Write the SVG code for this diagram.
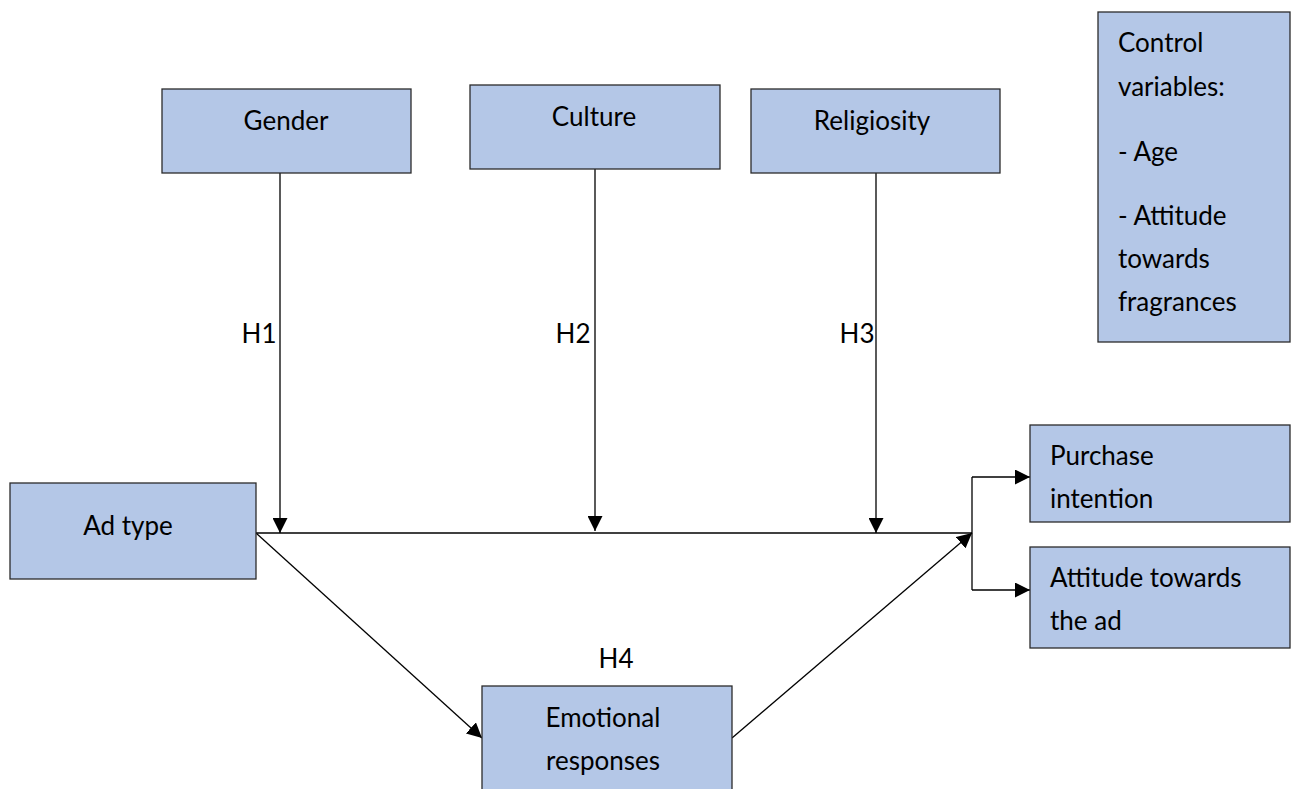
<svg xmlns="http://www.w3.org/2000/svg" width="1298" height="789" viewBox="0 0 1298 789">
<defs>
<style>
.box{fill:#B4C7E7;stroke:#2b2b2b;stroke-width:1.3}
text{font-family:Lato,"Open Sans","Liberation Sans",sans-serif;font-size:26px;fill:#000}
.c{text-anchor:middle}
.ln{stroke:#000;stroke-width:1.3;fill:none}
</style>
<marker id="ahs" viewBox="0 0 10 10" refX="10" refY="5" markerWidth="15" markerHeight="15" markerUnits="userSpaceOnUse" orient="auto"><path d="M0,0L10,5L0,10z" fill="#000"/></marker>
</defs>
<g id="connectors">
<line class="ln" x1="256" y1="533" x2="972" y2="533"/>
<line class="ln" x1="280" y1="173" x2="280" y2="533" marker-end="url(#ahs)"/>
<line class="ln" x1="595" y1="169" x2="595" y2="531" marker-end="url(#ahs)"/>
<line class="ln" x1="876" y1="173" x2="876" y2="533" marker-end="url(#ahs)"/>
<line class="ln" x1="972" y1="477" x2="972" y2="590"/>
<line class="ln" x1="972" y1="477" x2="1030" y2="477" marker-end="url(#ahs)"/>
<line class="ln" x1="972" y1="590" x2="1030" y2="590" marker-end="url(#ahs)"/>
<line class="ln" x1="256" y1="533" x2="482" y2="738" marker-end="url(#ahs)"/>
<line class="ln" x1="732" y1="738" x2="972" y2="533" marker-end="url(#ahs)"/>
<text x="259" y="343" class="c">H1</text>
<text x="573" y="343" class="c">H2</text>
<text x="857" y="343" class="c">H3</text>
<text x="616" y="668" class="c">H4</text>
</g>
<g id="gender"><rect class="box" x="162" y="89" width="249" height="84"/><text x="286" y="130" class="c">Gender</text></g>
<g id="culture"><rect class="box" x="470" y="85" width="250" height="84"/><text x="594" y="126" class="c">Culture</text></g>
<g id="religiosity"><rect class="box" x="751" y="89" width="249" height="84"/><text x="872" y="130" class="c">Religiosity</text></g>
<g id="control"><rect class="box" x="1098" y="12" width="192" height="330"/>
<text x="1118" y="52">Control</text><text x="1118" y="96">variables:</text><text x="1118" y="161">- Age</text><text x="1118" y="225">- Attitude</text><text x="1118" y="268">towards</text><text x="1118" y="311">fragrances</text></g>
<g id="adtype"><rect class="box" x="10" y="483" width="246" height="96"/><text x="128" y="535" class="c">Ad type</text></g>
<g id="purchase"><rect class="box" x="1030" y="425" width="260" height="97"/><text x="1050" y="465">Purchase</text><text x="1050" y="508">intention</text></g>
<g id="attitude"><rect class="box" x="1030" y="547" width="260" height="101"/><text x="1050" y="587">Attitude towards</text><text x="1050" y="630">the ad</text></g>
<g id="emotional"><rect class="box" x="482" y="686" width="250" height="110"/><text x="603" y="727" class="c">Emotional</text><text x="603" y="770" class="c">responses</text></g>
</svg>
